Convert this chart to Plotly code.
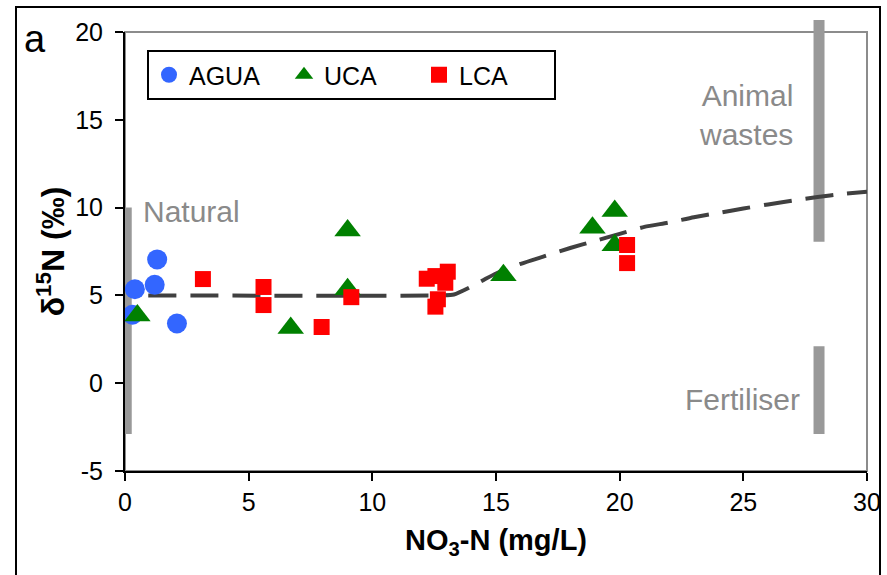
import plotly.graph_objects as go

# ---------------- data ----------------
AGUA_x = [0.3, 0.4, 1.2, 1.3, 2.1]
AGUA_y = [3.9, 5.35, 5.6, 7.05, 3.4]

UCA_x = [0.5, 9.0, 9.0, 6.7, 15.3, 18.9, 19.8, 19.8]
UCA_y = [3.85, 8.7, 5.35, 3.15, 6.15, 8.85, 9.8, 7.85]

LCA_x = [3.15, 5.6, 5.6, 7.95, 9.15, 12.2, 12.55, 13.05, 12.95, 12.65, 12.55, 20.3, 20.3]
LCA_y = [5.93, 5.48, 4.45, 3.2, 4.9, 5.95, 6.1, 6.35, 5.72, 4.78, 4.36, 7.87, 6.84]

TREND_x = [0.94, 12.8, 13.3, 14.0, 14.5, 15.0, 16.0, 17.0, 18.0, 19.0, 20.0, 21.0, 22.0,
           23.0, 24.0, 25.0, 26.0, 27.0, 28.0, 29.0, 30.0]
TREND_y = [5.0, 5.0, 5.05, 5.5, 5.88, 6.25, 6.8, 7.25, 7.7, 8.1, 8.5, 8.9, 9.15,
           9.45, 9.7, 9.95, 10.18, 10.4, 10.6, 10.77, 10.9]

SOURCE_names = ["Natural", "Animal<br>wastes", "Fertiliser"]
SOURCE_bar_x = [0.05, 28.06, 28.06]
SOURCE_lo = [-2.9, 8.05, -2.9]
SOURCE_hi = [10.0, 20.68, 2.1]
SOURCE_label_x = [0.65, 27.1, 27.36]
SOURCE_label_y = [9.75, 15.3, -0.95]

X_TICKS = [0, 5, 10, 15, 20, 25, 30]
Y_TICKS = [-5, 0, 5, 10, 15, 20]
X_RANGE = [0, 30]
Y_RANGE = [-5, 20]

# ---------------- layout constants ----------------
W, H = 887, 575
ML, MR, MT, MB = 125, 20, 20, 104
PLOT_TOP_PX = 32
paper_w = W - ML - MR
paper_h = H - MT - MB
DOM_TOP = (H - MB - PLOT_TOP_PX) / paper_h
Y2_TOP = Y_RANGE[0] + (Y_RANGE[1] - Y_RANGE[0]) / DOM_TOP

FONT = "Arial, Liberation Sans, sans-serif"
GRAY_TXT = "#8a8a8a"
GRAY_BAR = "#999999"

fig = go.Figure()

# dummy trace so the main subplot exists
fig.add_trace(go.Scatter(x=[], y=[], showlegend=False, hoverinfo="skip"))

# source range bars (on overlay axis so they can extend above the frame)
for bx, lo, hi in zip(SOURCE_bar_x, SOURCE_lo, SOURCE_hi):
    fig.add_trace(go.Scatter(
        x=[bx, bx], y=[lo, hi], mode="lines", yaxis="y2",
        line=dict(color=GRAY_BAR, width=11), showlegend=False, hoverinfo="skip"))

# trend line
fig.add_trace(go.Scatter(
    x=TREND_x, y=TREND_y, mode="lines", yaxis="y2",
    line=dict(color="#404040", width=4, dash="28px,14px", shape="spline", smoothing=0.6),
    showlegend=False, hoverinfo="skip"))

fig.add_trace(go.Scatter(
    x=AGUA_x, y=AGUA_y, mode="markers", name="AGUA", yaxis="y2",
    marker=dict(symbol="circle", size=20, color="#3366ff")))
fig.add_trace(go.Scatter(
    x=UCA_x, y=UCA_y, mode="markers", name="UCA", yaxis="y2",
    marker=dict(symbol="triangle-up", size=23, color="#008000")))
fig.add_trace(go.Scatter(
    x=LCA_x, y=LCA_y, mode="markers", name="LCA", yaxis="y2",
    marker=dict(symbol="square", size=16, color="#ff0000")))

annotations = []
for name, lx, ly, anchor in zip(SOURCE_names, SOURCE_label_x, SOURCE_label_y,
                                 ["left", "right", "right"]):
    annotations.append(dict(
        x=lx, y=ly, xref="x", yref="y", text=name, showarrow=False,
        xanchor=anchor, yanchor="middle", align=anchor,
        font=dict(family=FONT, size=30, color=GRAY_TXT)))
annotations.append(dict(
    x=(35 - ML) / paper_w, y=(H - MB - 39) / paper_h, xref="paper", yref="paper",
    text="a", showarrow=False, xanchor="center", yanchor="middle",
    font=dict(family=FONT, size=38, color="black")))

shapes = [
    # gray plot frame
    dict(type="rect", xref="x domain", yref="y domain", x0=0, x1=1, y0=0, y1=1,
         line=dict(color="#8c8c8c", width=2), layer="below"),
    # outer border
    dict(type="rect", xref="paper", yref="paper",
         x0=(16 - ML) / paper_w, x1=(880 - ML) / paper_w,
         y0=-0.4, y1=(H - MB - 7) / paper_h,
         line=dict(color="black", width=2)),
]

fig.update_layout(
    width=W, height=H,
    margin=dict(l=ML, r=MR, t=MT, b=MB, autoexpand=False),
    paper_bgcolor="white", plot_bgcolor="rgba(0,0,0,0)",
    font=dict(family=FONT, size=25, color="black"),
    showlegend=True,
    legend=dict(
        orientation="h", x=(147 - ML) / paper_w, y=(H - MB - 50) / paper_h,
        xanchor="left", yanchor="top",
        bgcolor="white", bordercolor="black", borderwidth=2,
        font=dict(family=FONT, size=25, color="black"),
        entrywidth=90, itemwidth=30,
    ),
    xaxis=dict(
        range=X_RANGE, tickvals=X_TICKS, ticktext=[str(v) for v in X_TICKS],
        ticks="outside", ticklen=8, tickwidth=2,
        tickcolor="black", showline=True, linecolor="black", linewidth=2,
        showgrid=False, zeroline=False, ticklabelstandoff=0, automargin=False,
        tickfont=dict(family=FONT, size=25, color="black"),
        title=dict(text="<b>NO<sub>3</sub>-N (mg/L)</b>", standoff=15,
                   font=dict(family=FONT, size=29, color="black")),
    ),
    yaxis=dict(
        range=Y_RANGE, domain=[0, DOM_TOP], tickvals=Y_TICKS,
        ticktext=[str(v) for v in Y_TICKS], ticks="outside",
        ticklen=8, tickwidth=2, tickcolor="black", showline=True, linecolor="black",
        linewidth=2, showgrid=False, zeroline=False, ticklabelstandoff=7,
        automargin=False,
        tickfont=dict(family=FONT, size=25, color="black"),
        title=dict(text="<b>δ<sup>15</sup>N (‰)</b>", standoff=1,
                   font=dict(family=FONT, size=32, color="black")),
    ),
    yaxis2=dict(range=[Y_RANGE[0], Y2_TOP], domain=[0, 1], anchor="x",
                visible=False, showgrid=False, zeroline=False),
    annotations=annotations,
    shapes=shapes,
)

fig.write_html("out.html", config={"displayModeBar": False},
               post_script="document.body.style.margin='0px';")
